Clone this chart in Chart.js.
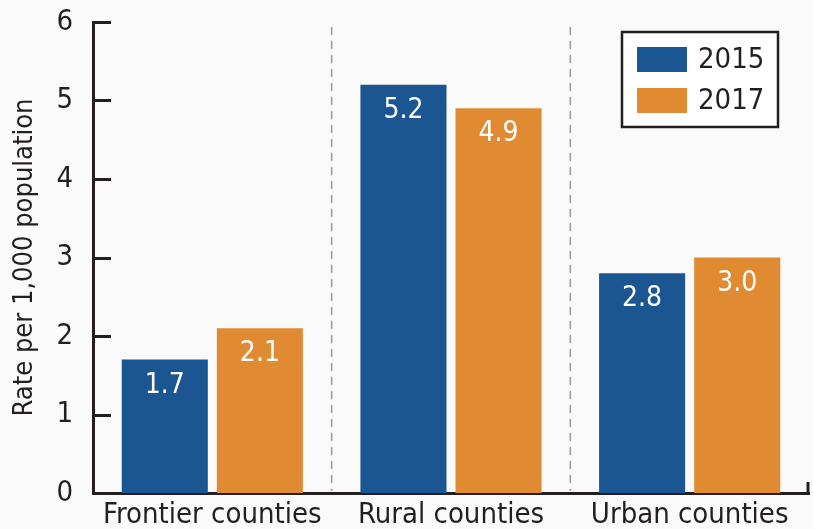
<!DOCTYPE html>
<html>
<head>
<meta charset="utf-8">
<script src="https://cdn.jsdelivr.net/npm/chart.js@4"></script>
<style>
  html, body { margin: 0; padding: 0; background: #fafafa; }
  canvas { display: block; }
</style>
</head>
<body>
<canvas id="chart" width="813" height="529"></canvas>
<script>
// chart values
const categories = ['Frontier counties', 'Rural counties', 'Urban counties'];
const years = ['2015', '2017'];
const rates2015 = [1.7, 5.2, 2.8];
const rates2017 = [2.1, 4.9, 3.0];
const yTicks = [0, 1, 2, 3, 4, 5, 6];

const FONT = "'Liberation Sans Narrow', 'Arial Narrow', 'DejaVu Sans Condensed', sans-serif";
const INK = '#231f20';
const COLORS = ['#1b5592', '#e08b32'];

// background, inward y ticks, dashed separators, value labels, boxed legend
const decorations = {
  id: 'decorations',
  beforeDraw(chart) {
    const { ctx, width, height } = chart;
    ctx.save();
    ctx.fillStyle = '#fafafa';
    ctx.fillRect(0, 0, width, height);
    ctx.restore();
  },
  beforeDatasetsDraw(chart) {
    const { ctx, chartArea, scales: { x, y } } = chart;
    ctx.save();
    // tick marks pointing into the plot
    ctx.strokeStyle = INK;
    ctx.lineWidth = 3;
    yTicks.forEach(v => {
      const py = Math.round(y.getPixelForValue(v)) + 0.5;
      ctx.beginPath();
      ctx.moveTo(chartArea.left, py);
      ctx.lineTo(chartArea.left + 18, py);
      ctx.stroke();
    });
    // small upturn at right end of x axis
    ctx.beginPath();
    ctx.moveTo(chartArea.right - 1, chartArea.bottom + 1.5);
    ctx.lineTo(chartArea.right - 1, chartArea.bottom - 11);
    ctx.stroke();
    // dashed separators between groups
    ctx.strokeStyle = '#9a9a9a';
    ctx.lineWidth = 1.5;
    ctx.setLineDash([8, 6]);
    for (let i = 0; i < categories.length - 1; i++) {
      const px = (x.getPixelForValue(i) + x.getPixelForValue(i + 1)) / 2;
      ctx.beginPath();
      ctx.moveTo(px, 27);
      ctx.lineTo(px, chartArea.bottom - 2);
      ctx.stroke();
    }
    ctx.restore();
  },
  afterDatasetsDraw(chart) {
    const { ctx } = chart;
    ctx.save();
    ctx.fillStyle = '#ffffff';
    ctx.font = '28px ' + FONT;
    ctx.textAlign = 'center';
    ctx.textBaseline = 'alphabetic';
    chart.data.datasets.forEach((ds, di) => {
      chart.getDatasetMeta(di).data.forEach((bar, i) => {
        ctx.fillText(ds.data[i].toFixed(1), bar.x, bar.y + 33);
      });
    });
    ctx.restore();
  },
  afterDraw(chart) {
    const { ctx } = chart;
    const box = { left: 622, top: 32, width: 156, height: 95 };
    ctx.save();
    ctx.fillStyle = '#ffffff';
    ctx.fillRect(box.left, box.top, box.width, box.height);
    ctx.strokeStyle = INK;
    ctx.lineWidth = 2.5;
    ctx.strokeRect(box.left, box.top, box.width, box.height);
    ctx.font = '29px ' + FONT;
    ctx.textAlign = 'left';
    ctx.textBaseline = 'middle';
    chart.data.datasets.forEach((ds, i) => {
      const sy = 47 + i * 41;
      ctx.fillStyle = ds.backgroundColor;
      ctx.fillRect(637, sy, 50, 25);
      ctx.fillStyle = INK;
      ctx.fillText(ds.label, 698, sy + 13);
    });
    ctx.restore();
  }
};

new Chart(document.getElementById('chart'), {
  type: 'bar',
  data: {
    labels: categories,
    datasets: [
      { label: years[0], data: rates2015, backgroundColor: COLORS[0] },
      { label: years[1], data: rates2017, backgroundColor: COLORS[1] }
    ]
  },
  options: {
    responsive: false,
    animation: false,
    devicePixelRatio: 1,
    layout: { autoPadding: false, padding: { top: 22, right: 4, left: 0, bottom: 0 } },
    datasets: {
      bar: { categoryPercentage: 0.797, barPercentage: 0.905, borderWidth: 0 }
    },
    plugins: {
      legend: { display: false },
      tooltip: { enabled: false }
    },
    scales: {
      x: {
        grid: { display: false, drawTicks: false },
        border: { display: true, color: INK, width: 3 },
        ticks: { color: INK, font: { family: FONT, size: 29 }, padding: 5, maxRotation: 0 },
        afterFit: scale => {
          scale.height = 36;
          scale.paddingLeft = 0;
          scale.paddingRight = 0;
        }
      },
      y: {
        min: 0,
        max: 6,
        grid: { display: false, drawTicks: false },
        border: { display: true, color: INK, width: 3 },
        ticks: { stepSize: 1, color: INK, font: { family: FONT, size: 29 }, padding: 20 },
        title: {
          display: true,
          text: 'Rate per 1,000 population',
          color: INK,
          font: { family: FONT, size: 27, lineHeight: 1.2 },
          padding: { top: 9, bottom: 0 }
        },
        afterFit: scale => {
          scale.width = 93;
          scale.paddingTop = 0;
          scale.paddingBottom = 0;
        }
      }
    }
  },
  plugins: [decorations]
});
</script>
</body>
</html>
